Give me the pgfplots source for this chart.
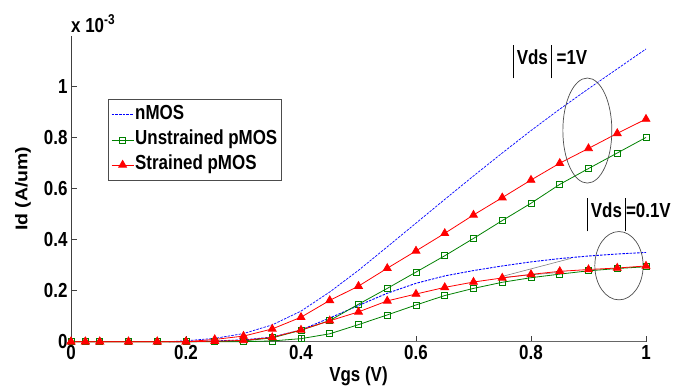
\documentclass[border=0pt]{standalone}
\usepackage{fontspec}
\setmainfont{Liberation Sans}
\usepackage{graphicx}
\usepackage{pgfplots}
\pgfplotsset{compat=1.18}
\usepackage{pgfplotstable}

\definecolor{mblue}{RGB}{0,0,255}
\definecolor{mgreen}{RGB}{0,128,0}
\definecolor{mred}{RGB}{255,0,0}

\pgfplotstableread{
x y
0.17 0
0.2 0.004
0.25 0.013
0.3 0.032
0.35 0.066
0.4 0.120
0.45 0.195
0.5 0.280
0.55 0.372
0.6 0.465
0.65 0.558
0.7 0.650
0.75 0.740
0.8 0.828
0.85 0.912
0.9 0.992
0.95 1.070
1.0 1.148
}\nmosA

\pgfplotstableread{
x y
0.17 0
0.2 0.001
0.25 0.003
0.3 0.007
0.35 0.018
0.4 0.046
0.45 0.093
0.5 0.142
0.55 0.190
0.6 0.229
0.65 0.258
0.7 0.279
0.75 0.297
0.8 0.313
0.85 0.326
0.9 0.336
0.95 0.344
1.0 0.350
}\nmosB

\pgfplotstableread{
x y
0 0
0.025 0
0.05 0
0.1 0
0.15 0
0.2 0
0.25 0.001
0.3 0.003
0.35 0.015
0.4 0.045
0.45 0.083
0.5 0.147
0.55 0.209
0.6 0.273
0.65 0.337
0.7 0.405
0.75 0.475
0.8 0.543
0.85 0.617
0.9 0.679
0.95 0.740
1.0 0.801
}\ustrA

\pgfplotstableread{
x y
0 0
0.025 0
0.05 0
0.1 0
0.15 0
0.2 0
0.25 0
0.3 0
0.35 0.003
0.4 0.012
0.45 0.031
0.5 0.067
0.55 0.105
0.6 0.144
0.65 0.181
0.7 0.209
0.75 0.233
0.8 0.251
0.85 0.265
0.9 0.278
0.95 0.287
1.0 0.294
}\ustrB

\pgfplotstableread{
x y
0 0
0.025 0
0.05 0
0.1 0
0.15 0
0.2 0
0.25 0.009
0.3 0.022
0.35 0.050
0.4 0.096
0.45 0.162
0.5 0.218
0.55 0.288
0.6 0.356
0.65 0.425
0.7 0.497
0.75 0.565
0.8 0.634
0.85 0.700
0.9 0.758
0.95 0.817
1.0 0.873
}\strA

\pgfplotstableread{
x y
0 0
0.025 0
0.05 0
0.1 0
0.15 0
0.2 0
0.25 0.002
0.3 0.005
0.35 0.017
0.4 0.046
0.45 0.082
0.5 0.117
0.55 0.160
0.6 0.187
0.65 0.213
0.7 0.234
0.75 0.250
0.8 0.264
0.85 0.276
0.9 0.283
0.95 0.289
1.0 0.297
}\strB

\newcommand{\bigfont}{\fontsize{17}{20}\selectfont\bfseries}
\newcommand{\vs}[1]{\scalebox{1}[1.2]{#1}}
\newcommand{\vbar}{\rule[-0.85em]{1.3pt}{1.95em}}

\begin{document}
\begin{tikzpicture}
\useasboundingbox (0,0) rectangle (678bp,388bp);
\begin{axis}[
  at={(71bp,46.3bp)}, anchor=south west,
  scale only axis, width=575bp, height=306bp,
  xmin=0, xmax=1, ymin=0, ymax=1.2,
  axis lines=left,
  x axis line style={-, gray!80!black, line width=1pt},
  y axis line style={-, gray!50!black, line width=0.8pt},
  tick align=inside,
  major tick length=6bp,
  tick style={gray!50!black, line width=0.6pt},
  xtick={0,0.2,0.4,0.6,0.8,1},
  ytick={0,0.2,0.4,0.6,0.8,1},
  /pgf/number format/assume math mode=true,
  tick label style={font=\bigfont},
  xticklabel={\vs{\pgfmathprintnumber{\tick}}},
  yticklabel={\vs{\pgfmathprintnumber{\tick}}},
  xlabel={\vs{Vgs (V)}},
  ylabel={\scalebox{1.15}[1]{Id (A/um)}},
  label style={font=\bigfont},
  xlabel style={at={(axis description cs:0.5,-0.113)}, anchor=center},
  ylabel style={at={(axis description cs:-0.0835,0.5)}, anchor=center},
  clip=false,
  legend cell align=left,
  legend image code/.code={\draw[mark repeat=2,mark phase=2,#1] plot coordinates {(0bp,0bp) (11bp,0bp) (22bp,0bp)};},
  legend style={at={(rel axis cs:0.0638,0.793)}, anchor=north west,
    draw=gray!60!black, line width=0.8pt, fill=white,
    inner xsep=3bp, inner ysep=6bp, row sep=6bp,
    nodes={font=\bigfont, text height=13bp, text depth=4bp, inner sep=1bp},
    /tikz/every even column/.append style={column sep=3bp}},
]
\addplot[mblue, line width=0.7pt, dash pattern=on 2.5bp off 1.2bp,
  legend image post style={line width=1.1pt}] table {\nmosA};
\addlegendentry{\vs{nMOS}}
\addplot[mblue, line width=0.9pt, dash pattern=on 2.5bp off 1.2bp, forget plot] table {\nmosB};

\addplot[mgreen, line width=0.8pt, mark=square, mark size=3bp, mark options={solid, line width=0.8pt}] table {\ustrA};
\addlegendentry{\vs{Unstrained pMOS}}
\addplot[mgreen, line width=0.8pt, mark=square, mark size=3bp, mark options={solid, line width=0.8pt}, forget plot] table {\ustrB};

\addplot[gray, line width=0.6pt, forget plot] coordinates {(0.75,0.256) (0.87,0.327)};
\addplot[gray, line width=0.6pt, forget plot] coordinates {(0.75,0.252) (0.86,0.274)};

\addplot[mred, line width=0.8pt, mark=triangle*, mark size=4.5bp, mark options={solid}] table {\strA};
\addlegendentry{\vs{Strained pMOS}}
\addplot[mred, line width=0.8pt, mark=triangle*, mark size=4.5bp, mark options={solid}, forget plot] table {\strB};

\draw[gray!60!black, line width=0.7pt] (axis cs:0.898,0.828) ellipse [x radius=0.0426, y radius=0.206];
\draw[gray!60!black, line width=0.7pt] (axis cs:0.953,0.298) ellipse [x radius=0.042, y radius=0.134];

\node[font=\bigfont, anchor=center] at (axis cs:0.833,1.097) {\vbar\,\vs{Vds}\,\vbar\ \vs{=1V}};
\node[font=\bigfont, anchor=center] at (axis cs:0.970,0.497) {\vbar\,\vs{Vds}\,\vbar\vs{=0.1V}};
\node[font=\bigfont, anchor=south west, inner sep=0pt] at ([yshift=3bp]rel axis cs:0,1) {\vs{x 10\textsuperscript{-3}}};
\end{axis}
\end{tikzpicture}
\end{document}
